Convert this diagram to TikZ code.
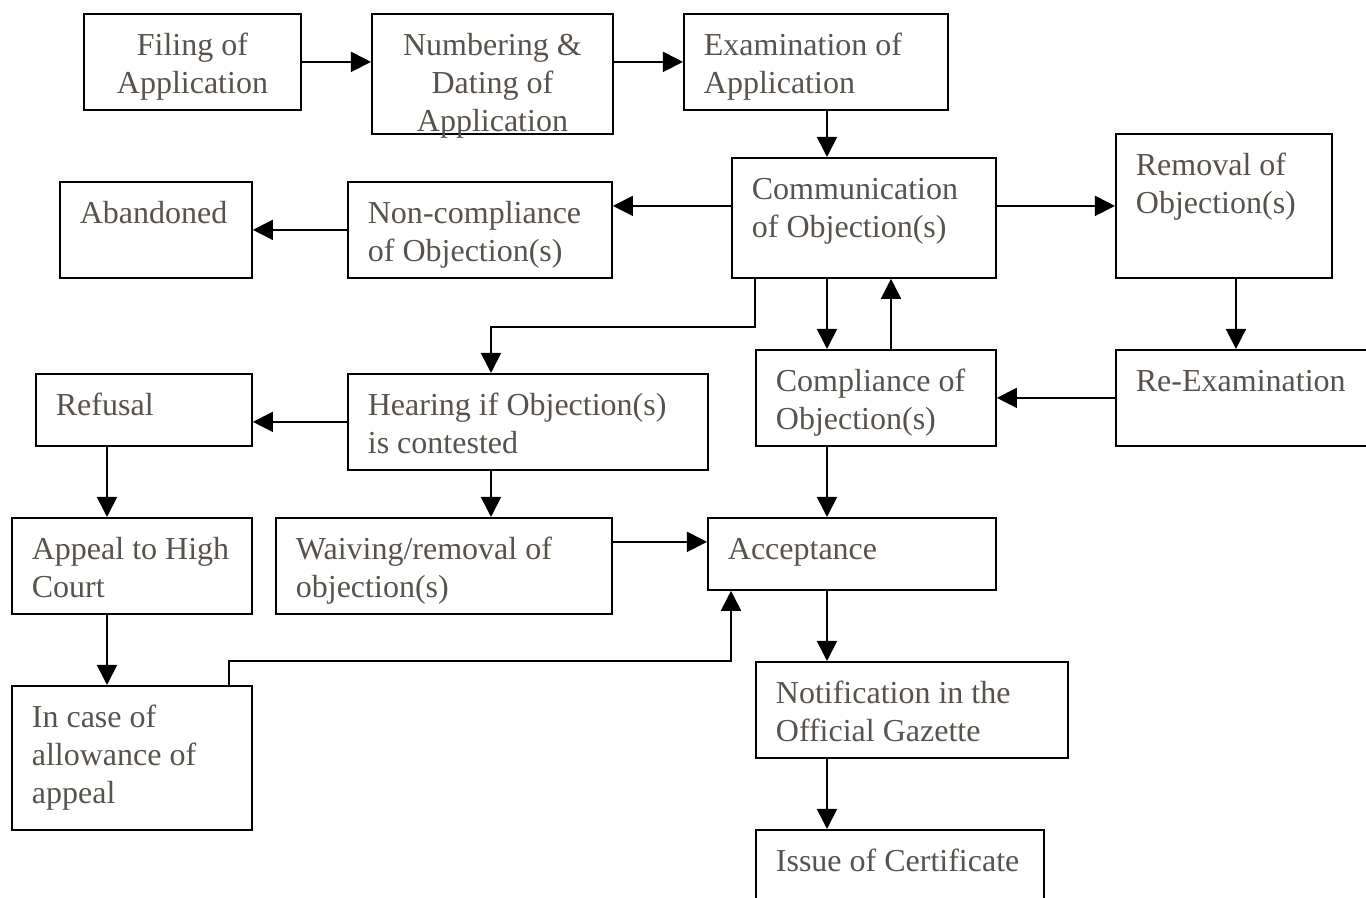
\documentclass[tikz,border=0pt]{standalone}
\usepackage{fontspec}
\setmainfont{Liberation Serif}
\usetikzlibrary{arrows.meta}
\definecolor{txtgray}{RGB}{88,82,76}
\newcommand{\boxfont}{\fontsize{9.1}{10.8}\selectfont}

\begin{document}
\begin{tikzpicture}[x=0.01cm,y=-0.01cm,
   box/.style={draw,line width=0.5pt,anchor=north west,inner xsep=0.2cm,inner ysep=0pt,
     text height=0.42cm,align=flush left,font=\boxfont,text=txtgray},
   arr/.style={-{Triangle[length=0.2cm,width=0.2cm]},line width=0.5pt}]
   \useasboundingbox (0,0) rectangle (1366,898);
   \node[box,align=flush center,text width=1.77cm,text depth=0.54cm] (filing)   at (83,13)   {Filing of\\Application};
   \node[box,align=flush center,text width=2.01cm,text depth=0.78cm] (number)   at (371,13)  {Numbering \&\\Dating of\\Application};
   \node[box,text width=2.24cm,text depth=0.54cm] (exam)     at (683,13)  {Examination of\\Application};
   \node[box,text width=2.24cm,text depth=0.78cm] (comm)     at (731,157) {Communication\\of Objection(s)};
   \node[box,text width=1.76cm,text depth=1.02cm] (removal)  at (1115,133) {Removal of\\Objection(s)};
   \node[box,text width=2.24cm,text depth=0.54cm] (noncomp)  at (347,181) {Non-compliance\\of Objection(s)};
   \node[box,text width=1.52cm,text depth=0.54cm] (aband)    at (59,181)  {Abandoned};
   \node[box,text width=3.20cm,text depth=0.54cm] (hearing)  at (347,373) {Hearing if Objection(s)\\is contested};
   \node[box,text width=1.76cm,text depth=0.30cm] (refusal)  at (35,373)  {Refusal};
   \node[box,text width=2.00cm,text depth=0.54cm] (compl)    at (755,349) {Compliance of\\Objection(s)};
   \node[box,text width=2.42cm,text depth=0.54cm] (reexam)   at (1115,349) {Re-Examination};
   \node[box,text width=2.00cm,text depth=0.54cm] (appeal)   at (11,517)  {Appeal to~High\\Court};
   \node[box,text width=2.96cm,text depth=0.54cm] (waiving)  at (275,517) {Waiving/removal of\\objection(s)};
   \node[box,text width=2.48cm,text depth=0.30cm] (accept)   at (707,517) {Acceptance};
   \node[box,text width=2.00cm,text depth=1.02cm] (incase)   at (11,685)  {In case of\\allowance of\\appeal};
   \node[box,text width=2.72cm,text depth=0.54cm] (notif)    at (755,661) {Notification in the\\Official Gazette};
   \node[box,text width=2.48cm,text depth=0.54cm] (issue)    at (755,829) {Issue of Certificate};
   \coordinate (spine) at (827,0);
   \coordinate (back)  at (891,0);
   \coordinate (hcol)  at (491,0);
   \coordinate (lcol)  at (107,0);
   \coordinate (wa)    at ([yshift=0.12cm]accept.west);
   \draw[arr] (filing.east) -- (filing.east -| number.west);
   \draw[arr] (exam.west -| number.east) -- (exam.west);
   \draw[arr] (exam.south -| spine) -- (comm.north -| spine);
   \draw[arr] (removal.west -| comm.west) -- (removal.west -| noncomp.east);
   \draw[arr] (removal.west -| comm.east) -- (removal.west);
   \draw[arr] (noncomp.west) -- (aband.east);
   \draw[arr] ([xshift=0.12cm]removal.south) -- ([xshift=0.12cm]removal.south |- reexam.north);
   \draw[arr] (reexam.west) -- (compl.east);
   \draw[arr] (comm.south -| spine) -- (compl.north -| spine);
   \draw[arr] (compl.north -| back) -- (comm.south -| back);
   \draw[arr] (comm.south -| compl.west) -- ++(0,48) -| (hearing.north -| hcol);
   \draw[arr] (hearing.west) -- (hearing.west -| refusal.east);
   \draw[arr] (hearing.south -| hcol) -- (waiving.north -| hcol);
   \draw[arr] (refusal.south -| lcol) -- (appeal.north -| lcol);
   \draw[arr] (appeal.south -| lcol) -- (incase.north -| lcol);
   \draw[arr] ([xshift=-0.24cm]incase.north east) -- ++(0,-24) -| (accept.south -| comm.west);
   \draw[arr] (wa -| waiving.east) -- (wa);
   \draw[arr] (compl.south -| spine) -- (accept.north -| spine);
   \draw[arr] (accept.south -| spine) -- (notif.north -| spine);
   \draw[arr] (notif.south -| spine) -- (issue.north -| spine);
\end{tikzpicture}
\end{document}
